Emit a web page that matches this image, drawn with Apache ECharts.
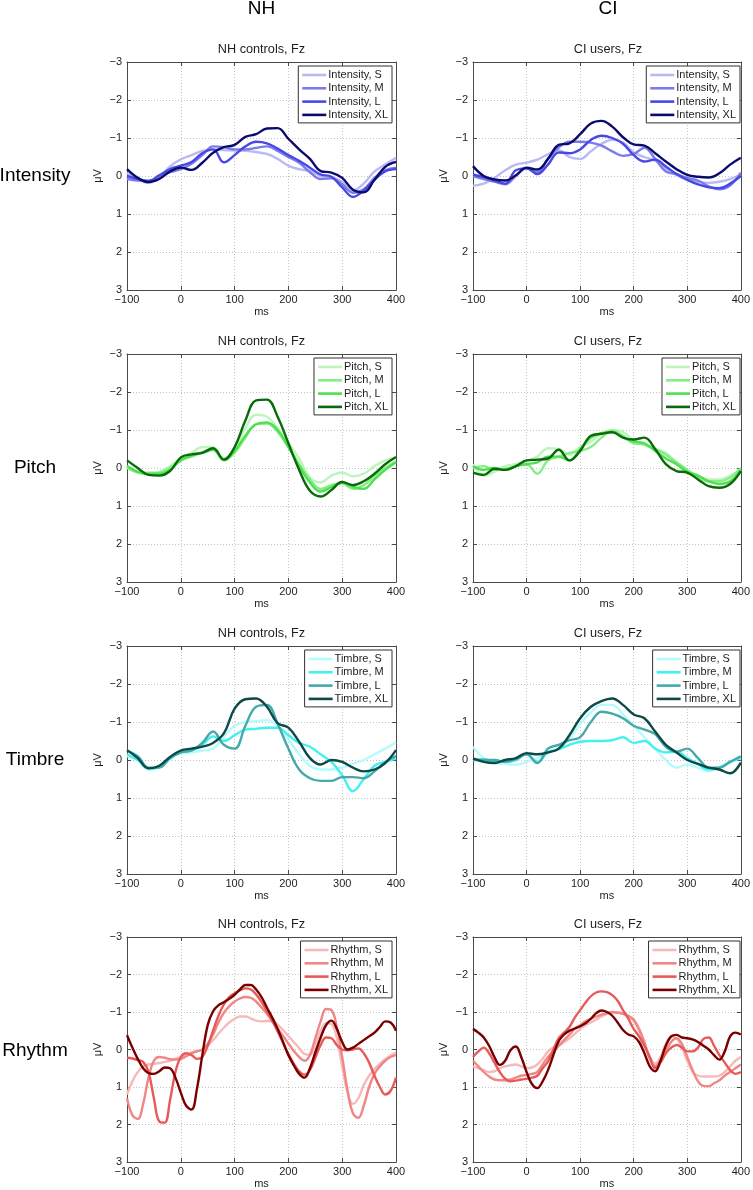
<!DOCTYPE html>
<html><head><meta charset="utf-8">
<script src="https://cdn.jsdelivr.net/npm/echarts@6/dist/echarts.min.js"></script>
<style>html,body{margin:0;padding:0;background:#fff}#c{width:753px;height:1190px}</style>
</head><body><div id="c"></div><script>
// ---------- data ----------
const t20 = [-100,-80,-60,-40,-20,0,20,40,60,80,100,120,140,160,180,200,220,240,260,280,300,320,340,360,380,400];
const t10 = [-100,-90,-80,-70,-60,-50,-40,-30,-20,-10,0,10,20,30,40,50,60,70,80,90,100,110,120,130,140,150,160,170,180,190,200,210,220,230,240,250,260,270,280,290,300,310,320,330,340,350,360,370,380,390,400];
const xTicks = [-100,0,100,200,300,400];
const yTicks = [-3,-2,-1,0,1,2,3];
const levels = ['S','M','L','XL'];
const groups = ['NH','CI'];
const panelTitles = ['NH controls, Fz','CI users, Fz'];
const features = ['Intensity','Pitch','Timbre','Rhythm'];

// Intensity
const intNH_S  = [-0.08,0.08,0.18,0.05,-0.25,-0.44,-0.55,-0.66,-0.7,-0.68,-0.67,-0.66,-0.63,-0.58,-0.45,-0.27,-0.18,-0.13,0.0,0.03,0.15,0.38,0.2,-0.12,-0.3,-0.48];
const intNH_M  = [0.08,0.12,0.13,0.03,-0.1,-0.18,-0.32,-0.55,-0.78,-0.76,-0.7,-0.7,-0.74,-0.78,-0.66,-0.5,-0.35,-0.1,0.08,0.06,0.22,0.44,0.35,0.05,-0.15,-0.22];
const intNH_L  = [0.0,0.08,0.13,-0.02,-0.18,-0.27,-0.37,-0.6,-0.7,-0.36,-0.55,-0.78,-0.9,-0.86,-0.72,-0.55,-0.4,-0.22,-0.04,0.02,0.3,0.55,0.38,0.1,-0.12,-0.18];
const intNH_XL = [-0.18,0.05,0.16,0.08,-0.12,-0.22,-0.16,-0.35,-0.61,-0.76,-0.82,-1.03,-1.1,-1.25,-1.26,-0.98,-0.7,-0.45,-0.13,-0.09,0.05,0.36,0.43,0.1,-0.24,-0.37];
const intCI_S  = [0.26,0.2,0.05,-0.15,-0.3,-0.35,-0.43,-0.57,-0.68,-0.5,-0.45,-0.65,-0.85,-0.95,-0.88,-0.62,-0.5,-0.4,-0.2,-0.02,0.1,0.15,0.18,0.15,0.08,-0.04];
const intCI_M  = [0.0,0.08,0.15,0.22,0.0,-0.2,-0.1,-0.45,-0.75,-0.9,-0.9,-0.88,-0.8,-0.65,-0.53,-0.58,-0.74,-0.45,-0.12,-0.05,0.05,0.12,0.27,0.35,0.25,-0.09];
const intCI_L  = [-0.04,0.03,0.12,0.2,-0.15,-0.2,-0.05,-0.3,-0.62,-0.6,-0.7,-0.95,-1.06,-1.0,-0.85,-0.55,-0.38,-0.43,-0.25,-0.05,0.1,0.22,0.3,0.32,0.2,0.0];
const intCI_XL = [-0.26,0.0,0.09,0.12,-0.02,-0.22,-0.17,-0.45,-0.82,-0.86,-1.1,-1.38,-1.45,-1.3,-1.02,-0.83,-0.8,-0.6,-0.38,-0.18,-0.03,0.02,0.04,-0.07,-0.3,-0.48];

// Pitch
const pitNH_S  = [-0.05,0.1,0.12,0.1,-0.05,-0.25,-0.4,-0.55,-0.55,-0.25,-0.5,-1.05,-1.4,-1.35,-1.05,-0.65,-0.25,0.25,0.38,0.2,0.12,0.22,0.15,-0.05,-0.2,-0.28];
const pitNH_M  = [0.0,0.12,0.15,0.12,0.0,-0.22,-0.3,-0.42,-0.5,-0.2,-0.4,-0.8,-1.15,-1.17,-0.95,-0.55,-0.1,0.3,0.55,0.45,0.4,0.55,0.45,0.22,0.0,-0.18];
const pitNH_L  = [-0.05,0.1,0.15,0.15,0.05,-0.2,-0.33,-0.4,-0.48,-0.22,-0.45,-0.85,-1.15,-1.2,-1.0,-0.55,-0.05,0.38,0.62,0.5,0.38,0.5,0.55,0.3,0.05,-0.15];
const pitNH_XL = [-0.2,0.0,0.18,0.2,0.08,-0.28,-0.36,-0.4,-0.52,-0.22,-0.55,-1.25,-1.78,-1.8,-1.35,-0.65,0.05,0.6,0.75,0.58,0.37,0.45,0.35,0.15,-0.1,-0.29];
const pitCI_S  = [-0.1,0.2,0.1,-0.05,-0.1,-0.18,-0.3,-0.52,-0.5,-0.35,-0.55,-0.7,-0.9,-1.0,-0.95,-0.72,-0.6,-0.5,-0.4,-0.15,0.05,0.2,0.3,0.3,0.2,0.05];
const pitCI_M  = [0.0,-0.05,0.05,0.02,-0.05,-0.1,0.15,-0.2,-0.3,-0.4,-0.45,-0.55,-0.8,-0.98,-0.85,-0.65,-0.62,-0.5,-0.35,-0.15,0.05,0.25,0.35,0.35,0.25,0.0];
const pitCI_L  = [-0.05,0.05,0.0,0.05,-0.05,-0.1,-0.15,-0.3,-0.3,-0.2,-0.5,-0.8,-0.92,-0.95,-0.8,-0.7,-0.65,-0.45,-0.25,-0.1,0.1,0.2,0.35,0.42,0.35,0.05];
const pitCI_XL = [0.12,0.18,0.02,0.05,-0.05,-0.2,-0.22,-0.25,-0.48,-0.2,-0.45,-0.85,-0.9,-0.94,-0.8,-0.75,-0.8,-0.5,-0.1,0.08,0.12,0.3,0.48,0.52,0.42,0.08];

// Timbre
const timNH_S  = [-0.1,0.0,0.25,0.2,0.0,-0.18,-0.2,-0.25,-0.3,-0.6,-0.9,-1.0,-1.02,-1.05,-0.9,-0.55,-0.15,0.15,0.25,0.25,0.2,0.1,0.0,-0.15,-0.3,-0.46];
const timNH_M  = [-0.15,0.0,0.22,0.18,-0.05,-0.2,-0.25,-0.4,-0.62,-0.5,-0.65,-0.8,-0.82,-0.85,-0.85,-0.65,-0.45,-0.35,-0.15,0.05,0.4,0.82,0.5,0.15,0.05,-0.04];
const timNH_L  = [-0.25,-0.1,0.2,0.2,-0.05,-0.2,-0.25,-0.45,-0.75,-0.4,-0.3,-0.9,-1.4,-1.45,-0.95,-0.3,0.25,0.48,0.55,0.55,0.45,0.45,0.48,0.3,0.05,-0.1];
const timNH_XL = [-0.26,-0.05,0.22,0.15,-0.08,-0.25,-0.3,-0.35,-0.45,-0.7,-1.35,-1.6,-1.62,-1.4,-0.97,-0.85,-0.48,-0.05,0.12,0.0,0.05,0.2,0.3,0.25,0.08,-0.26];
const timCI_S  = [-0.35,-0.05,0.08,0.1,0.13,0.05,-0.05,-0.2,-0.3,-0.55,-0.95,-1.25,-1.45,-1.45,-1.2,-0.9,-0.6,-0.3,0.0,0.2,0.12,0.2,0.3,0.2,0.05,-0.05];
const timCI_M  = [0.0,-0.02,0.05,0.05,0.0,-0.15,0.05,-0.2,-0.28,-0.4,-0.48,-0.5,-0.5,-0.52,-0.6,-0.45,-0.5,-0.3,-0.2,-0.22,-0.05,0.1,0.25,0.2,0.05,-0.05];
const timCI_L  = [0.0,0.0,0.0,0.05,-0.02,-0.15,0.08,-0.3,-0.4,-0.52,-0.6,-1.0,-1.27,-1.22,-1.1,-0.9,-0.8,-0.68,-0.35,-0.22,-0.3,-0.05,0.2,0.2,0.05,-0.1];
const timCI_XL = [-0.04,0.05,0.08,0.0,-0.05,-0.18,-0.15,-0.2,-0.3,-0.65,-1.1,-1.4,-1.55,-1.62,-1.45,-1.2,-1.1,-0.75,-0.4,-0.2,0.0,0.1,0.2,0.25,0.35,0.07];

// Rhythm (10 ms steps)
const rhyNH_S  = [1.2,0.85,0.6,0.45,0.4,0.38,0.36,0.33,0.3,0.25,0.2,0.14,0.08,0.04,0.0,-0.1,-0.25,-0.42,-0.58,-0.72,-0.82,-0.88,-0.88,-0.83,-0.77,-0.75,-0.76,-0.75,-0.66,-0.52,-0.36,-0.2,-0.04,0.12,0.14,-0.15,-0.5,-0.7,-0.68,-0.3,0.45,1.15,1.45,1.3,0.95,0.7,0.52,0.38,0.26,0.16,0.08];
const rhyNH_M  = [1.3,1.75,1.85,1.45,0.75,0.3,0.2,0.22,0.26,0.27,0.25,0.18,0.1,0.05,0.0,-0.15,-0.4,-0.72,-0.98,-1.15,-1.28,-1.36,-1.4,-1.38,-1.28,-1.12,-0.95,-0.76,-0.56,-0.36,-0.16,0.04,0.2,0.3,0.15,-0.3,-0.75,-1.08,-1.05,-0.6,0.2,1.1,1.7,1.82,1.5,1.0,0.65,0.45,0.3,0.2,0.15];
const rhyNH_L  = [0.22,0.24,0.28,0.33,0.6,1.3,1.92,1.95,1.35,0.6,0.2,0.1,0.15,0.25,0.2,-0.1,-0.5,-0.9,-1.2,-1.4,-1.5,-1.58,-1.63,-1.6,-1.47,-1.27,-1.02,-0.76,-0.48,-0.18,0.12,0.38,0.58,0.67,0.55,0.22,-0.12,-0.32,-0.3,-0.12,0.0,0.02,0.0,-0.03,0.1,0.35,0.7,1.0,1.2,1.1,0.75];
const rhyNH_XL = [-0.38,-0.05,0.25,0.5,0.63,0.65,0.58,0.48,0.5,0.75,1.15,1.5,1.6,1.05,0.15,-0.65,-1.02,-1.18,-1.26,-1.35,-1.46,-1.6,-1.72,-1.72,-1.6,-1.4,-1.12,-0.85,-0.55,-0.2,0.15,0.42,0.65,0.75,0.5,0.08,-0.32,-0.65,-0.77,-0.55,-0.2,0.0,-0.05,-0.15,-0.25,-0.35,-0.45,-0.6,-0.75,-0.72,-0.5];
const rhyCI_S  = [0.45,0.5,0.55,0.6,0.58,0.5,0.45,0.42,0.4,0.45,0.5,0.48,0.4,0.25,0.05,-0.05,-0.1,-0.2,-0.3,-0.42,-0.55,-0.65,-0.72,-0.8,-0.88,-0.95,-0.98,-1.0,-0.95,-0.88,-0.75,-0.5,-0.15,0.2,0.38,0.2,-0.15,-0.35,-0.3,-0.05,0.3,0.6,0.7,0.72,0.72,0.72,0.7,0.6,0.45,0.3,0.2];
const rhyCI_M  = [0.3,0.45,0.6,0.72,0.8,0.82,0.82,0.8,0.75,0.7,0.68,0.65,0.6,0.4,0.2,0.05,-0.1,-0.25,-0.4,-0.55,-0.65,-0.75,-0.82,-0.88,-0.93,-0.97,-1.0,-0.98,-0.95,-0.9,-0.8,-0.55,-0.2,0.25,0.45,0.3,0.05,-0.2,-0.3,-0.15,0.2,0.55,0.85,0.97,0.98,0.9,0.82,0.7,0.6,0.5,0.4];
const rhyCI_L  = [0.2,0.05,-0.05,0.1,0.35,0.6,0.78,0.85,0.83,0.8,0.78,0.75,0.7,0.5,0.32,0.0,-0.3,-0.45,-0.6,-0.85,-1.05,-1.25,-1.42,-1.52,-1.55,-1.53,-1.45,-1.3,-1.05,-0.82,-0.55,-0.35,-0.1,0.2,0.5,0.35,0.1,-0.05,-0.12,-0.05,0.05,0.05,-0.05,-0.28,-0.32,-0.1,0.15,0.35,0.55,0.65,0.6];
const rhyCI_XL = [-0.55,-0.45,-0.32,-0.1,0.2,0.41,0.3,0.02,-0.08,0.2,0.6,0.92,1.03,0.85,0.55,0.15,-0.22,-0.4,-0.5,-0.56,-0.62,-0.7,-0.82,-0.97,-1.04,-1.0,-0.9,-0.72,-0.52,-0.4,-0.35,-0.2,0.1,0.45,0.58,0.3,-0.1,-0.35,-0.39,-0.32,-0.3,-0.27,-0.2,-0.1,0.0,0.15,0.27,0.05,-0.35,-0.45,-0.4];

// ---------- styling / layout ----------
const palette = {
  Intensity: ['#b9b9f3','#7b7be9','#4848e6','#0b0b6c'],
  Pitch:     ['#bdf6bd','#84ee84','#4fe04f','#0a6a0a'],
  Timbre:    ['#b6fbfb','#44f0f0','#45a9a9','#0b4a47'],
  Rhythm:    ['#f7baba','#f08686','#e85959','#7a0000']
};
const panelData = {
  Intensity: {t: t20, NH: [intNH_S,intNH_M,intNH_L,intNH_XL], CI: [intCI_S,intCI_M,intCI_L,intCI_XL]},
  Pitch:     {t: t20, NH: [pitNH_S,pitNH_M,pitNH_L,pitNH_XL], CI: [pitCI_S,pitCI_M,pitCI_L,pitCI_XL]},
  Timbre:    {t: t20, NH: [timNH_S,timNH_M,timNH_L,timNH_XL], CI: [timCI_S,timCI_M,timCI_L,timCI_XL]},
  Rhythm:    {t: t10, NH: [rhyNH_S,rhyNH_M,rhyNH_L,rhyNH_XL], CI: [rhyCI_S,rhyCI_M,rhyCI_L,rhyCI_XL]}
};
const FONT = '"Liberation Sans", Arial, sans-serif';
const rowTop = [62, 354, 646, 937];
const colLeft = [127, 473];
const colWidth = [269, 270];
const H = 228;
const axisColor = '#4a4a4a';
const textColor = '#1e1e1e';
const minus = v => (v < 0 ? '\u2212' + Math.abs(v) : String(v));

const grid = [], xAxis = [], yAxis = [], series = [], legend = [], graphic = [];
let gi = 0;
features.forEach((feat, r) => {
  groups.forEach((g, c) => {
    grid.push({left: colLeft[c], top: rowTop[r], width: colWidth[c], height: H, containLabel: false});
    const baseX = {type: 'value', gridIndex: gi, min: xTicks[0], max: xTicks[xTicks.length-1], interval: 100};
    const baseY = {type: 'value', gridIndex: gi, min: yTicks[0], max: yTicks[yTicks.length-1], interval: 1, inverse: true};
    xAxis.push(Object.assign({}, baseX, {
      position: 'bottom',
      axisLine: {show: true, onZero: false, lineStyle: {color: axisColor, width: 1}},
      axisTick: {show: true, inside: true, length: 4, lineStyle: {color: axisColor}},
      axisLabel: {fontSize: 11, color: textColor, margin: 4, fontFamily: FONT, formatter: minus},
      splitLine: {show: true, lineStyle: {color: '#c4c4c4', type: [1, 2], width: 1}},
      name: 'ms', nameLocation: 'middle', nameGap: 16,
      nameTextStyle: {fontSize: 11, color: textColor, fontFamily: FONT}
    }));
    xAxis.push(Object.assign({}, baseX, {
      position: 'top',
      axisLine: {show: true, onZero: false, lineStyle: {color: axisColor, width: 1}},
      axisTick: {show: true, inside: true, length: 4, lineStyle: {color: axisColor}},
      axisLabel: {show: false}, splitLine: {show: false}
    }));
    yAxis.push(Object.assign({}, baseY, {
      position: 'left',
      axisLine: {show: true, onZero: false, lineStyle: {color: axisColor, width: 1}},
      axisTick: {show: true, inside: true, length: 4, lineStyle: {color: axisColor}},
      axisLabel: {fontSize: 11, color: textColor, margin: 5, fontFamily: FONT, formatter: minus},
      splitLine: {show: true, lineStyle: {color: '#c4c4c4', type: [1, 2], width: 1}},
      name: '\u03bcV', nameLocation: 'middle', nameGap: 24, nameRotate: 90,
      nameTextStyle: {fontSize: 11, color: textColor, fontFamily: FONT}
    }));
    yAxis.push(Object.assign({}, baseY, {
      position: 'right',
      axisLine: {show: true, onZero: false, lineStyle: {color: axisColor, width: 1}},
      axisTick: {show: true, inside: true, length: 4, lineStyle: {color: axisColor}},
      axisLabel: {show: false}, splitLine: {show: false}
    }));
    const names = levels.map(l => feat + ', ' + l);
    const pd = panelData[feat];
    pd[g].forEach((vals, k) => {
      series.push({
        type: 'line', name: names[k], xAxisIndex: 2*gi, yAxisIndex: 2*gi,
        data: vals.map((v, i) => [pd.t[i], v]),
        smooth: 0.4, symbol: 'none', showSymbol: false,
        lineStyle: {width: 2.4, color: palette[feat][k]},
        itemStyle: {color: palette[feat][k]},
        z: 2 + k, silent: true, animation: false
      });
    });
    legend.push({
      data: names, orient: 'vertical',
      right: c === 0 ? 753 - 392 : 753 - 740, top: rowTop[r] + 4,
      icon: 'rect', itemWidth: 24, itemHeight: 2.6, itemGap: 1.3,
      padding: [3, 4, 2, 4],
      backgroundColor: '#ffffff', borderColor: '#303030', borderWidth: 1, borderRadius: 0,
      selectedMode: false,
      textStyle: {fontSize: 11, color: textColor, fontFamily: FONT, lineHeight: 12, padding: [0, 0, 0, -3]},
      z: 10
    });
    graphic.push({type: 'text', z: 20, style: {
      text: panelTitles[c], x: colLeft[c] + colWidth[c] / 2, y: rowTop[r] - 13,
      textAlign: 'center', textVerticalAlign: 'middle', fill: textColor,
      font: '12.7px ' + FONT }});
    gi++;
  });
  graphic.push({type: 'text', z: 20, style: {
    text: feat, x: 35, y: rowTop[r] + H / 2,
    textAlign: 'center', textVerticalAlign: 'middle', fill: '#000',
    font: '19px ' + FONT }});
});
groups.forEach((g, c) => {
  graphic.push({type: 'text', z: 20, style: {
    text: g, x: colLeft[c] + colWidth[c] / 2, y: 9,
    textAlign: 'center', textVerticalAlign: 'middle', fill: '#000',
    font: '19px ' + FONT }});
});

const chart = echarts.init(document.getElementById('c'), null, {renderer: 'canvas'});
chart.setOption({
  animation: false, backgroundColor: '#ffffff',
  grid, xAxis, yAxis, series, legend, graphic
});
</script></body></html>
